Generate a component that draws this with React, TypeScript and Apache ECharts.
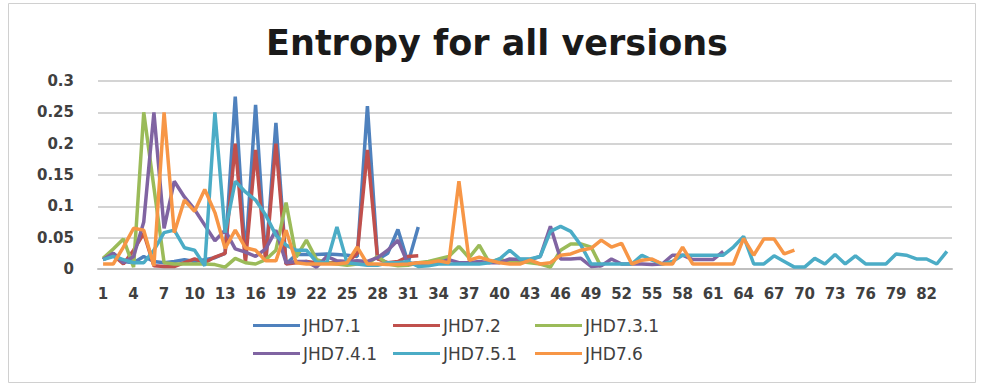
import React, { useEffect, useRef } from "react";
import * as echarts from "echarts";

const categories: string[] = Array.from({ length: 84 }, (_, i) => String(i + 1));

const seriesNames = ["JHD7.1", "JHD7.2", "JHD7.3.1", "JHD7.4.1", "JHD7.5.1", "JHD7.6"];
const seriesColors = ["#4F81BD", "#C0504D", "#9BBB59", "#8064A2", "#4BACC6", "#F79646"];

const jhd71 = [
  0.015, 0.025, 0.012, 0.01, 0.02, 0.012, 0.01, 0.012, 0.015, 0.012,
  0.015, 0.018, 0.025, 0.275, 0.017, 0.262, 0.012, 0.233, 0.008, 0.023,
  0.023, 0.023, 0.024, 0.023, 0.022, 0.02, 0.26, 0.015, 0.025, 0.063,
  0.01, 0.067,
];

const jhd72 = [
  0.015, 0.022, 0.008, 0.03, 0.057, 0.005, 0.004, 0.004, 0.01, 0.016,
  0.01, 0.019, 0.025, 0.2, 0.01, 0.19, 0.012, 0.2, 0.008, 0.01,
  0.012, 0.01, 0.01, 0.01, 0.01, 0.025, 0.19, 0.016, 0.01, 0.012,
  0.02, 0.021,
];

const jhd731 = [
  0.017, 0.032, 0.048, 0.003, 0.25, 0.13, 0.01, 0.008, 0.008, 0.008,
  0.008, 0.007, 0.003, 0.017, 0.01, 0.008, 0.015, 0.03, 0.106, 0.019,
  0.046, 0.015, 0.01, 0.008, 0.006, 0.008, 0.008, 0.02, 0.008, 0.005,
  0.006, 0.01, 0.012, 0.016, 0.02, 0.036, 0.018, 0.038, 0.01, 0.016,
  0.01, 0.012, 0.01, 0.008, 0.003, 0.03, 0.04, 0.04, 0.035, 0.003,
];

const jhd741 = [
  0.015, 0.025, 0.01, 0.02, 0.075, 0.25, 0.065, 0.14, 0.115, 0.095,
  0.07, 0.045, 0.062, 0.032, 0.027, 0.02, 0.032, 0.062, 0.01, 0.012,
  0.012, 0.003, 0.02, 0.013, 0.012, 0.013, 0.012, 0.018, 0.03, 0.046,
  0.008, 0.01, 0.008, 0.01, 0.015, 0.01, 0.01, 0.012, 0.01, 0.01,
  0.016, 0.015, 0.015, 0.02, 0.068, 0.016, 0.016, 0.017, 0.004, 0.005,
  0.016, 0.008, 0.008, 0.008, 0.007, 0.008, 0.022, 0.022, 0.015, 0.015,
  0.015, 0.028,
];

const jhd751 = [
  0.015, 0.02, 0.015, 0.01, 0.01, 0.03, 0.058, 0.062, 0.034, 0.03,
  0.005, 0.25, 0.058, 0.14, 0.123, 0.11, 0.086, 0.054, 0.038, 0.03,
  0.03, 0.011, 0.01, 0.067, 0.01, 0.008, 0.006, 0.006, 0.01, 0.01,
  0.012, 0.004, 0.005, 0.008, 0.008, 0.008, 0.008, 0.008, 0.01, 0.016,
  0.03, 0.016, 0.016, 0.02, 0.06, 0.068, 0.06, 0.038, 0.008, 0.008,
  0.008, 0.008, 0.008, 0.022, 0.014, 0.008, 0.012, 0.022, 0.022, 0.022,
  0.022, 0.022, 0.035, 0.052, 0.008, 0.008, 0.021, 0.012, 0.003, 0.003,
  0.017, 0.008, 0.023, 0.008, 0.021, 0.008, 0.008, 0.008, 0.024, 0.022,
  0.016, 0.016, 0.008, 0.028,
];

const jhd76 = [
  0.008, 0.008, 0.035, 0.065, 0.062, 0.005, 0.25, 0.058, 0.11, 0.092,
  0.127, 0.09, 0.033, 0.062, 0.034, 0.03, 0.013, 0.013, 0.062, 0.01,
  0.008, 0.008, 0.008, 0.008, 0.01, 0.035, 0.008, 0.008, 0.007, 0.007,
  0.008, 0.01, 0.01, 0.013, 0.01, 0.14, 0.014, 0.019, 0.014, 0.01,
  0.008, 0.008, 0.014, 0.008, 0.01, 0.022, 0.024, 0.03, 0.033, 0.046,
  0.035, 0.041, 0.008, 0.014, 0.016, 0.008, 0.008, 0.035, 0.008, 0.008,
  0.008, 0.008, 0.008, 0.049, 0.022, 0.048, 0.048, 0.024, 0.03,
];

const seriesData = [jhd71, jhd72, jhd731, jhd741, jhd751, jhd76];

const legendLefts = [253, 393, 535, 253, 393, 535];
const legendTops = [317, 317, 317, 345, 345, 345];

export default function App() {
  const ref = useRef<HTMLDivElement>(null);

  useEffect(() => {
    if (!ref.current) return;
    const chart = echarts.init(ref.current, undefined, { renderer: "svg" });
    const labelFont = "'DejaVu Sans', sans-serif";

    const option: any = {
      animation: false,
      backgroundColor: "#ffffff",
      graphic: [
        {
          type: "rect",
          shape: { x: 8.5, y: 3.5, width: 967, height: 379 },
          style: { fill: "none", stroke: "#d0d0d0", lineWidth: 1 },
          silent: true,
        },
        {
          type: "text",
          x: 497,
          y: 43,
          style: {
            text: "Entropy for all versions",
            textAlign: "center",
            textVerticalAlign: "middle",
            fontFamily: labelFont,
            fontWeight: "bold",
            fontSize: 35,
            fill: "#1a1a1a",
          },
        },
      ],
      legend: seriesNames.map((name, i) => ({
        data: [name],
        left: legendLefts[i],
        top: legendTops[i],
        icon: "rect",
        itemWidth: 47,
        itemHeight: 3,
        itemGap: 0,
        padding: 0,
        selectedMode: false,
        textStyle: {
          fontFamily: labelFont,
          fontSize: 17,
          color: "#404040",
          padding: [0, 0, 0, -2],
        },
      })),
      grid: { left: 98, right: 29, top: 81, bottom: 117 },
      xAxis: {
        type: "category",
        data: categories,
        boundaryGap: true,
        axisLine: { show: true, lineStyle: { color: "#bfbfbf", width: 2 } },
        axisTick: { show: false },
        axisLabel: {
          interval: 2,
          margin: 17,
          fontFamily: labelFont,
          fontSize: 15,
          fontWeight: "bold",
          color: "#404040",
        },
      },
      yAxis: {
        type: "value",
        min: 0,
        max: 0.3,
        interval: 0.05,
        axisLine: { show: false },
        axisTick: { show: false },
        splitLine: { lineStyle: { color: "#d4d4d4", width: 2 } },
        axisLabel: {
          margin: 24,
          fontFamily: labelFont,
          fontSize: 15,
          fontWeight: "bold",
          color: "#404040",
        },
      },
      series: seriesNames.map((name, i) => ({
        name,
        type: "line",
        data: seriesData[i],
        symbol: "none",
        showSymbol: false,
        color: seriesColors[i],
        lineStyle: { width: 3.5, color: seriesColors[i] },
      })),
    };

    chart.setOption(option);
    return () => chart.dispose();
  }, []);

  return (
    <div
      ref={ref}
      style={{ position: "fixed", left: 0, top: 0, width: 981, height: 386 }}
    />
  );
}
